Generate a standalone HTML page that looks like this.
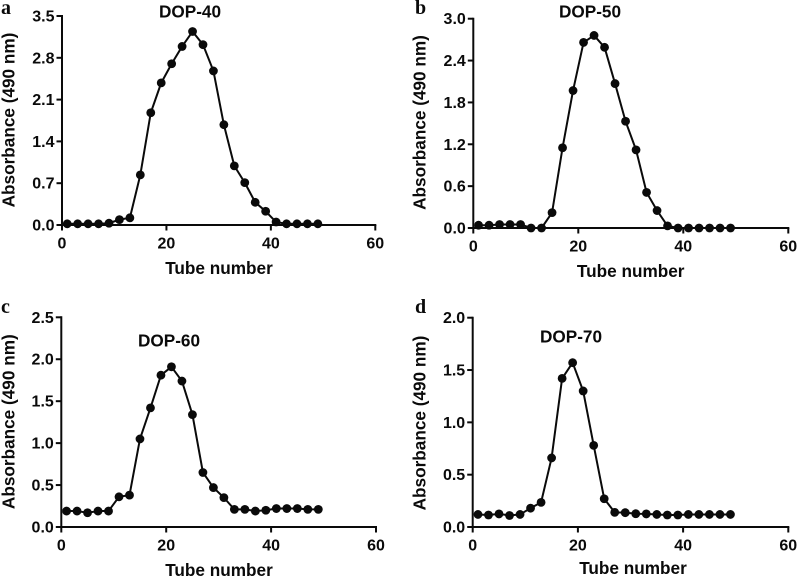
<!DOCTYPE html>
<html lang="en">
<head>
<meta charset="utf-8">
<title>Absorbance elution profiles</title>
<style>
  html, body { margin: 0; padding: 0; background: #fff; }
  svg { display: block; }
  text { font-family: "Liberation Sans", sans-serif; font-weight: bold; fill: #0a0a0a; }
  .letter { font-family: "Liberation Serif", serif; font-size: 20px; }
  .tick { font-size: 16px; }
  .title { font-size: 17.2px; }
</style>
</head>
<body>
<svg id="figure" width="797" height="578" viewBox="0 0 797 578" xmlns="http://www.w3.org/2000/svg"></svg>
<script>
const tubes = [1,3,5,7,9,11,13,15,17,19,21,23,25,27,29,31,33,35,37,39,41,43,45,47,49];
const xTicks = [0,20,40,60];

const namesA = 'dop-40';
const valuesA = [0.02,0.02,0.02,0.02,0.03,0.09,0.12,0.84,1.88,2.38,2.70,2.99,3.24,3.02,2.58,1.68,0.99,0.71,0.38,0.23,0.05,0.02,0.02,0.02,0.02];
const yTicksA = ['0.0','0.7','1.4','2.1','2.8','3.5'];

const namesB = 'dop-50';
const valuesB = [0.04,0.04,0.05,0.05,0.05,0.00,0.00,0.22,1.15,1.97,2.66,2.76,2.59,2.07,1.53,1.12,0.51,0.25,0.03,0.00,0.00,0.00,0.00,0.00,0.00];
const yTicksB = ['0.0','0.6','1.2','1.8','2.4','3.0'];

const namesC = 'dop-60';
const valuesC = [0.19,0.19,0.17,0.19,0.19,0.36,0.38,1.05,1.42,1.81,1.91,1.74,1.34,0.65,0.47,0.35,0.21,0.21,0.19,0.20,0.22,0.22,0.22,0.21,0.21];
const yTicksC = ['0.0','0.5','1.0','1.5','2.0','2.5'];

const namesD = 'dop-70';
const valuesD = [0.12,0.115,0.125,0.11,0.12,0.18,0.235,0.66,1.42,1.57,1.30,0.78,0.27,0.14,0.137,0.127,0.125,0.12,0.115,0.115,0.12,0.12,0.12,0.12,0.12];
const yTicksD = ['0.0','0.5','1.0','1.5','2.0'];

const NS = 'http://www.w3.org/2000/svg';
const root = document.getElementById('figure');

function make(parent, tag, attrs, content) {
  const el = document.createElementNS(NS, tag);
  for (const k in attrs) el.setAttribute(k, attrs[k]);
  if (content !== undefined) el.textContent = content;
  parent.appendChild(el);
  return el;
}

function drawPanel(p) {
  const maxY = parseFloat(p.ticks[p.ticks.length - 1]);
  const sx = v => p.x0 + (v / 60) * (p.x1 - p.x0);
  const sy = v => p.y0 - (v / maxY) * (p.y0 - p.y1);

  const g = make(root, 'g', {});
  
  

  const letter = make(g, 'text', { class: 'letter', x: p.letterX, y: p.letterY }, p.letter);
  
  

  const title = make(g, 'text', { class: 'title', x: p.titleX, y: p.titleY, 'text-anchor': 'middle' }, p.name.toUpperCase());
  
  

  const yAxis = make(g, 'line', { x1: p.x0, x2: p.x0, y1: p.y1 - 1, y2: p.y0 + 1, stroke: '#0a0a0a', 'stroke-width': 2 });
  
  

  const xAxis = make(g, 'line', { x1: p.x0 - 1, x2: p.x1 + 1, y1: p.y0, y2: p.y0, stroke: '#0a0a0a', 'stroke-width': 2 });
  
  

  xTicks.forEach(t => {
    const mark = make(g, 'line', { x1: sx(t), x2: sx(t), y1: p.y0, y2: p.y0 + 5.5, stroke: '#0a0a0a', 'stroke-width': 2 });
    
    
    const label = make(g, 'text', { class: 'tick', x: sx(t), y: p.y0 + 23.5, 'text-anchor': 'middle' }, String(t));
    
    
  });

  p.ticks.forEach(t => {
    const v = parseFloat(t);
    const mark = make(g, 'line', { x1: p.x0 - 5.5, x2: p.x0, y1: sy(v), y2: sy(v), stroke: '#0a0a0a', 'stroke-width': 2 });
    
    
    const label = make(g, 'text', { class: 'tick', x: p.x0 - 7.5, y: sy(v) + 5.5, 'text-anchor': 'end' }, t);
    
    
  });

  const xTitle = make(g, 'text', { class: 'title', x: p.xTitleX, y: p.xTitleY, 'text-anchor': 'middle' }, 'Tube number');
  
  

  const yTitle = make(g, 'text', { class: 'title', 'text-anchor': 'middle', transform: 'translate(' + p.yTitleX + ',' + p.yTitleY + ') rotate(-90)' }, 'Absorbance (490 nm)');
  
  

  const pts = p.values.map((v, i) => sx(tubes[i]).toFixed(2) + ',' + sy(v).toFixed(2)).join(' ');
  const line = make(g, 'polyline', { points: pts, fill: 'none', stroke: '#0a0a0a', 'stroke-width': 2, 'stroke-linejoin': 'round' });
  
  

  p.values.forEach((v, i) => {
    const dot = make(g, 'circle', { cx: sx(tubes[i]), cy: sy(v), r: 4.4, fill: '#0a0a0a' });
    
    
  });
}

drawPanel({ name: namesA, letter: 'a', values: valuesA, ticks: yTicksA,
  x0: 62, x1: 375.3, y0: 225, y1: 16,
  letterX: 1, letterY: 14, titleX: 190, titleY: 17.5,
  xTitleX: 219, xTitleY: 274, yTitleX: 14.7, yTitleY: 120 });

drawPanel({ name: namesB, letter: 'b', values: valuesB, ticks: yTicksB,
  x0: 473.3, x1: 788.3, y0: 228, y1: 18.7,
  letterX: 415, letterY: 14, titleX: 590, titleY: 17.5,
  xTitleX: 630.7, xTitleY: 277, yTitleX: 425.7, yTitleY: 122.5 });

drawPanel({ name: namesC, letter: 'c', values: valuesC, ticks: yTicksC,
  x0: 61.3, x1: 376, y0: 527, y1: 317.3,
  letterX: 1, letterY: 313, titleX: 169, titleY: 346.7,
  xTitleX: 219, xTitleY: 576, yTitleX: 14.7, yTitleY: 421.7 });

drawPanel({ name: namesD, letter: 'd', values: valuesD, ticks: yTicksD,
  x0: 472.7, x1: 788.3, y0: 527, y1: 317.7,
  letterX: 415, letterY: 313, titleX: 571, titleY: 342.7,
  xTitleX: 633, xTitleY: 574, yTitleX: 425.7, yTitleY: 423 });
</script>
</body>
</html>
